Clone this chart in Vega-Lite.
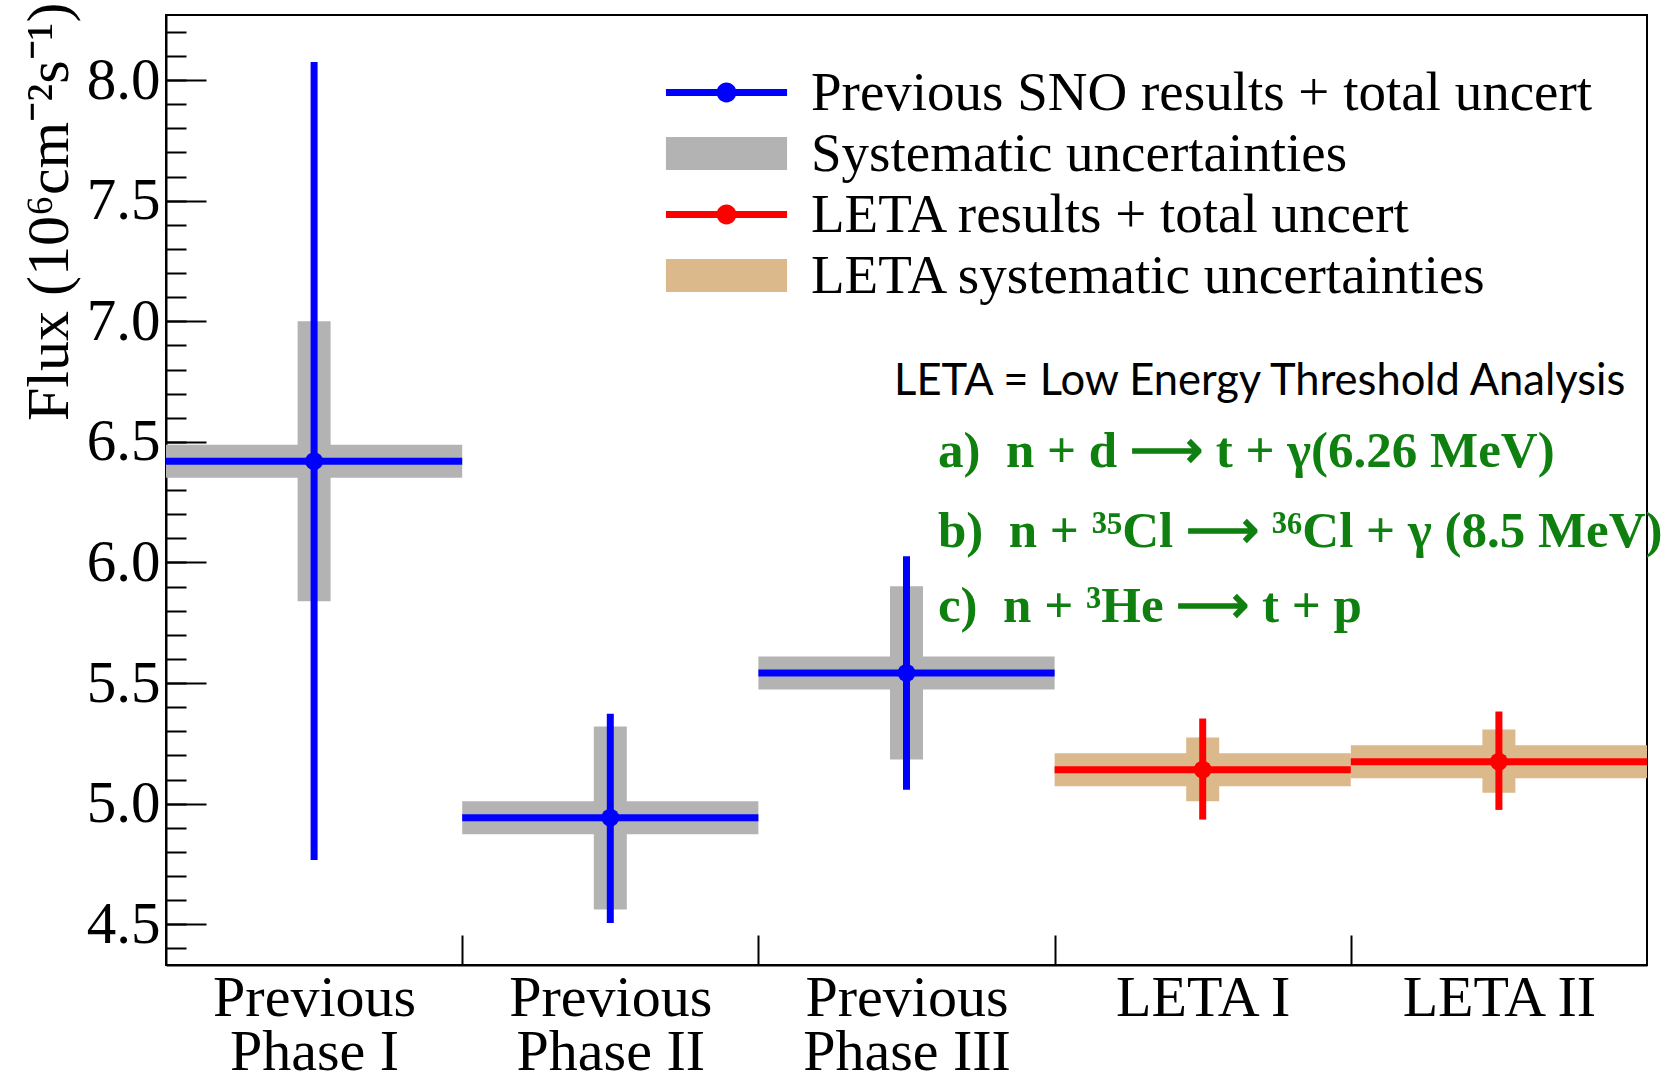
{
  "$schema": "https://vega.github.io/schema/vega-lite/v6.json",
  "width": 1481,
  "height": 950,
  "autosize": {"type": "none"},
  "padding": {"left": 166, "top": 15, "right": 30, "bottom": 109},
  "background": "white",
  "datasets": {
    "pts": [
      {"cat": "Previous Phase I", "grp": "prev", "xc": 0.5, "x0": 0, "x1": 1, "v": 6.42, "tlo": 4.766, "thi": 8.075, "slo": 5.839, "shi": 7.0},
      {"cat": "Previous Phase II", "grp": "prev", "xc": 1.5, "x0": 1, "x1": 2, "v": 4.942, "tlo": 4.505, "thi": 5.373, "slo": 4.561, "shi": 5.32},
      {"cat": "Previous Phase III", "grp": "prev", "xc": 2.5, "x0": 2, "x1": 3, "v": 5.542, "tlo": 5.058, "thi": 6.026, "slo": 5.183, "shi": 5.901},
      {"cat": "LETA I", "grp": "leta", "xc": 3.5, "x0": 3, "x1": 4, "v": 5.141, "tlo": 4.934, "thi": 5.353, "slo": 5.01, "shi": 5.274},
      {"cat": "LETA II", "grp": "leta", "xc": 4.5, "x0": 4, "x1": 5, "v": 5.174, "tlo": 4.974, "thi": 5.382, "slo": 5.045, "shi": 5.307}
    ],
    "legend": [
      {"series": "Previous SNO results + total uncert"},
      {"series": "Systematic uncertainties"},
      {"series": "LETA results + total uncert"},
      {"series": "LETA systematic uncertainties"}
    ],
    "notes_sans": [
      {"x": 2.458, "y": 6.749, "label": "LETA = Low Energy Threshold Analysis"}
    ],
    "notes_green": [
      {"x": 2.606, "y": 6.456, "label": "a)\u00a0\u00a0n + d ⟶ t + γ(6.26 MeV)"},
      {"x": 2.606, "y": 6.128, "label": "b)\u00a0\u00a0n + ³⁵Cl ⟶ ³⁶Cl + γ (8.5 MeV)"},
      {"x": 2.606, "y": 5.817, "label": "c)\u00a0\u00a0n + ³He ⟶ t + p"}
    ]
  },
  "layer": [
    {
      "data": {"name": "pts"},
      "mark": {"type": "rule", "strokeWidth": 33, "strokeCap": "butt"},
      "encoding": {
        "x": {"field": "x0", "type": "quantitative", "scale": {"domain": [0, 5], "nice": false, "zero": false},
          "axis": {"orient": "bottom", "values": [1, 2, 3, 4], "labels": false, "tickSize": -30, "tickWidth": 2, "tickColor": "black", "domain": true, "domainColor": "black", "domainWidth": 2, "grid": false, "title": null}},
        "x2": {"field": "x1"},
        "y": {"field": "v", "type": "quantitative", "scale": {"domain": [4.331, 8.27], "nice": false, "zero": false},
          "axis": {"orient": "left", "values": [4.5, 5, 5.5, 6, 6.5, 7, 7.5, 8], "format": ".1f", "tickSize": -40, "tickWidth": 2, "tickColor": "black", "labelPadding": 46, "labelFont": "Liberation Serif", "labelFontSize": 59, "labelColor": "black", "domain": true, "domainColor": "black", "domainWidth": 2, "grid": false,
            "title": "Flux (10⁶cm⁻²s⁻¹)", "titleFont": "Liberation Serif", "titleFontSize": 60, "titleFontWeight": "normal", "titleColor": "black", "titleAngle": -90, "titleAlign": "right", "titleBaseline": "middle", "titleX": -117, "titleY": -13, "titleLimit": 1000}},
        "color": {"condition": {"test": "datum.grp == 'leta'", "value": "#dbb98a"}, "value": "#b3b3b3"}
      }
    },
    {
      "data": {"name": "pts"},
      "mark": {"type": "rule", "strokeWidth": 33, "strokeCap": "butt"},
      "encoding": {
        "x": {"field": "xc", "type": "quantitative", "scale": {"domain": [0, 5], "nice": false, "zero": false},
          "axis": {"orient": "bottom", "values": [0.5, 1.5, 2.5, 3.5, 4.5], "ticks": false, "domain": false, "grid": false, "title": null, "labelPadding": 4, "labelBaseline": "top", "labelFont": "Liberation Serif", "labelFontSize": 58, "labelLineHeight": 54, "labelColor": "black", "labelLimit": 600, "labelOverlap": false,
            "labelExpr": "[['Previous','Phase I'],['Previous','Phase II'],['Previous','Phase III'],['LETA I'],['LETA II']][floor(datum.value)]"}},
        "y": {"field": "slo", "type": "quantitative", "scale": {"domain": [4.331, 8.27], "nice": false, "zero": false},
          "axis": {"orient": "left", "values": [4.4, 4.5, 4.6, 4.7, 4.8, 4.9, 5.0, 5.1, 5.2, 5.3, 5.4, 5.5, 5.6, 5.7, 5.8, 5.9, 6.0, 6.1, 6.2, 6.3, 6.4, 6.5, 6.6, 6.7, 6.8, 6.9, 7.0, 7.1, 7.2, 7.3, 7.4, 7.5, 7.6, 7.7, 7.8, 7.9, 8.0, 8.1, 8.2], "labels": false, "tickSize": -20, "tickWidth": 2, "tickColor": "black", "domain": false, "grid": false, "title": null}},
        "y2": {"field": "shi"},
        "color": {"condition": {"test": "datum.grp == 'leta'", "value": "#dbb98a"}, "value": "#b3b3b3"}
      }
    },
    {
      "data": {"name": "pts"},
      "mark": {"type": "rule", "strokeWidth": 7, "strokeCap": "butt"},
      "encoding": {
        "x": {"field": "x0", "type": "quantitative", "scale": {"domain": [0, 5], "nice": false, "zero": false}, "axis": null},
        "x2": {"field": "x1"},
        "y": {"field": "v", "type": "quantitative", "scale": {"domain": [4.331, 8.27], "nice": false, "zero": false}, "axis": null},
        "color": {"condition": {"test": "datum.grp == 'leta'", "value": "#ff0000"}, "value": "#0000ff"}
      }
    },
    {
      "data": {"name": "pts"},
      "mark": {"type": "rule", "strokeWidth": 7, "strokeCap": "butt"},
      "encoding": {
        "x": {"field": "xc", "type": "quantitative", "scale": {"domain": [0, 5], "nice": false, "zero": false}, "axis": null},
        "y": {"field": "tlo", "type": "quantitative", "scale": {"domain": [4.331, 8.27], "nice": false, "zero": false}, "axis": null},
        "y2": {"field": "thi"},
        "color": {"condition": {"test": "datum.grp == 'leta'", "value": "#ff0000"}, "value": "#0000ff"}
      }
    },
    {
      "data": {"name": "pts"},
      "mark": {"type": "circle", "size": 320, "opacity": 1},
      "encoding": {
        "x": {"field": "xc", "type": "quantitative", "scale": {"domain": [0, 5], "nice": false, "zero": false}, "axis": null},
        "y": {"field": "v", "type": "quantitative", "scale": {"domain": [4.331, 8.27], "nice": false, "zero": false}, "axis": null},
        "color": {"condition": {"test": "datum.grp == 'leta'", "value": "#ff0000"}, "value": "#0000ff"}
      }
    },
    {
      "data": {"name": "legend"},
      "mark": {"type": "point", "filled": true, "opacity": 1, "strokeWidth": 0},
      "encoding": {
        "x": {"field": "xc", "type": "quantitative", "scale": {"domain": [0, 5], "nice": false, "zero": false}, "axis": null},
        "y": {"field": "v", "type": "quantitative", "scale": {"domain": [4.331, 8.27], "nice": false, "zero": false}, "axis": null},
        "color": {"field": "series", "type": "nominal",
          "scale": {"domain": ["Previous SNO results + total uncert", "Systematic uncertainties", "LETA results + total uncert", "LETA systematic uncertainties"], "range": ["#0000ff", "#b3b3b3", "#ff0000", "#dbb98a"]},
          "legend": {"orient": "none", "legendX": 533, "legendY": 50, "title": null, "padding": 0, "symbolSize": 1089, "symbolStrokeWidth": 0, "symbolOpacity": 1, "labelFont": "Liberation Serif", "labelFontSize": 55, "labelColor": "black", "labelOffset": 57, "rowPadding": 5, "labelLimit": 1200}},
        "shape": {"field": "series", "type": "nominal",
          "scale": {"domain": ["Previous SNO results + total uncert", "Systematic uncertainties", "LETA results + total uncert", "LETA systematic uncertainties"],
            "range": ["M-3.67,-0.21H3.67V0.21H-3.67Z M-0.6,0A0.6,0.6,0,1,1,0.6,0A0.6,0.6,0,1,1,-0.6,0Z", "M-3.67,-1H3.67V1H-3.67Z", "M-3.67,-0.21H3.67V0.21H-3.67Z M-0.6,0A0.6,0.6,0,1,1,0.6,0A0.6,0.6,0,1,1,-0.6,0Z", "M-3.67,-1H3.67V1H-3.67Z"]},
          "legend": {"orient": "none", "legendX": 533, "legendY": 50, "title": null, "padding": 0, "symbolSize": 1089, "symbolStrokeWidth": 0, "labelFont": "Liberation Serif", "labelFontSize": 55, "labelColor": "black", "labelOffset": 57, "rowPadding": 5, "labelLimit": 1200}}
      }
    },
    {
      "data": {"name": "notes_sans"},
      "mark": {"type": "text", "font": "Lato", "fontSize": 43.5, "color": "black", "align": "left", "baseline": "middle"},
      "encoding": {
        "x": {"field": "x", "type": "quantitative", "scale": {"domain": [0, 5], "nice": false, "zero": false}, "axis": null},
        "y": {"field": "y", "type": "quantitative", "scale": {"domain": [4.331, 8.27], "nice": false, "zero": false}, "axis": null},
        "text": {"field": "label"}
      }
    },
    {
      "data": {"name": "notes_green"},
      "mark": {"type": "text", "font": "Liberation Serif", "fontWeight": "bold", "fontSize": 51, "color": "#0f800f", "align": "left", "baseline": "middle"},
      "encoding": {
        "x": {"field": "x", "type": "quantitative", "scale": {"domain": [0, 5], "nice": false, "zero": false}, "axis": null},
        "y": {"field": "y", "type": "quantitative", "scale": {"domain": [4.331, 8.27], "nice": false, "zero": false}, "axis": null},
        "text": {"field": "label"}
      }
    }
  ],
  "resolve": {"axis": {"x": "independent", "y": "independent"}},
  "config": {
    "view": {"stroke": "black", "strokeWidth": 2},
    "font": "Liberation Serif"
  }
}
